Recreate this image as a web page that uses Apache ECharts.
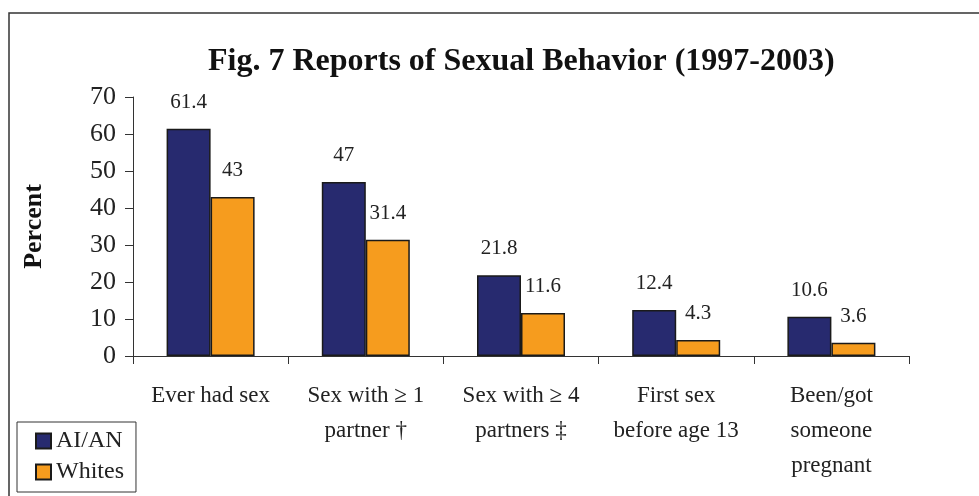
<!DOCTYPE html>
<html>
<head>
<meta charset="UTF-8">
<title>Fig. 7</title>
<script src="https://cdn.jsdelivr.net/npm/echarts@6/dist/echarts.min.js"></script>
<style>
    html, body { margin: 0; padding: 0; background: #fff; }
    #main { width: 979px; height: 496px; }
</style>
</head>
<body>
<div id="main"></div>
<script type="text/javascript">
    var categories = ['Ever had sex', 'Sex with \u2265 1\npartner \u2020', 'Sex with \u2265 4\npartners \u2021', 'First sex\nbefore age 13', 'Been/got\nsomeone\npregnant'];
    var aian = [61.4, 47, 21.8, 12.4, 10.6];
    var whites = [43, 31.4, 11.6, 4.3, 3.6];
    var yTicks = [0, 10, 20, 30, 40, 50, 60, 70];

    var serif = '"Liberation Serif", "DejaVu Serif", serif';
    var myChart = echarts.init(document.getElementById('main'));

    function barLabel() {
        return {
            show: true,
            position: 'top',
            distance: 16,
            color: '#222',
            fontFamily: serif,
            fontSize: 21
        };
    }

    var option = {
        backgroundColor: '#fff',
        animation: false,
        title: {
            text: 'Fig. 7 Reports of Sexual Behavior (1997-2003)',
            left: 203,
            top: 41,
            textStyle: { fontFamily: serif, fontSize: 32, fontWeight: 'bold', color: '#111' }
        },
        graphic: [{
            type: 'rect',
            shape: { x: 9, y: 13, width: 1000, height: 520 },
            style: { fill: 'none', stroke: '#333', lineWidth: 1.5 }
        }],
        legend: {
            orient: 'vertical',
            left: 17,
            top: 422,
            icon: 'rect',
            itemWidth: 15,
            itemHeight: 15,
            itemGap: 7,
            padding: [7, 12, 8, 18],
            borderColor: '#333',
            borderWidth: 1,
            textStyle: { fontFamily: serif, fontSize: 24, color: '#222' },
            data: ['AI/AN', 'Whites']
        },
        grid: { left: 133, right: 70, top: 97, bottom: 140 },
        xAxis: {
            type: 'category',
            data: categories,
            axisLine: { lineStyle: { color: '#333', width: 1 } },
            axisTick: { show: true, length: 8, lineStyle: { color: '#333' } },
            axisLabel: { fontFamily: serif, fontSize: 23, color: '#222', margin: 22, lineHeight: 35, interval: 0 }
        },
        yAxis: {
            type: 'value',
            min: yTicks[0],
            max: yTicks[yTicks.length - 1],
            interval: 10,
            name: 'Percent',
            nameLocation: 'middle',
            nameGap: 86,
            nameTextStyle: { fontFamily: serif, fontSize: 26, fontWeight: 'bold', color: '#111' },
            axisLine: { show: true, lineStyle: { color: '#333', width: 1 } },
            axisTick: { show: true, length: 8, lineStyle: { color: '#333' } },
            splitLine: { show: false },
            axisLabel: { fontFamily: serif, fontSize: 26, color: '#222', margin: 17 }
        },
        series: [
            {
                name: 'AI/AN',
                type: 'bar',
                data: aian,
                barWidth: 44,
                barGap: 0,
                itemStyle: { color: '#272A6F', borderColor: '#1a1a1a', borderWidth: 1.5 },
                label: barLabel()
            },
            {
                name: 'Whites',
                type: 'bar',
                data: whites,
                barWidth: 44,
                itemStyle: { color: '#F69C1E', borderColor: '#1a1a1a', borderWidth: 1.5 },
                label: barLabel()
            }
        ]
    };
    myChart.setOption(option);
</script>
</body>
</html>
